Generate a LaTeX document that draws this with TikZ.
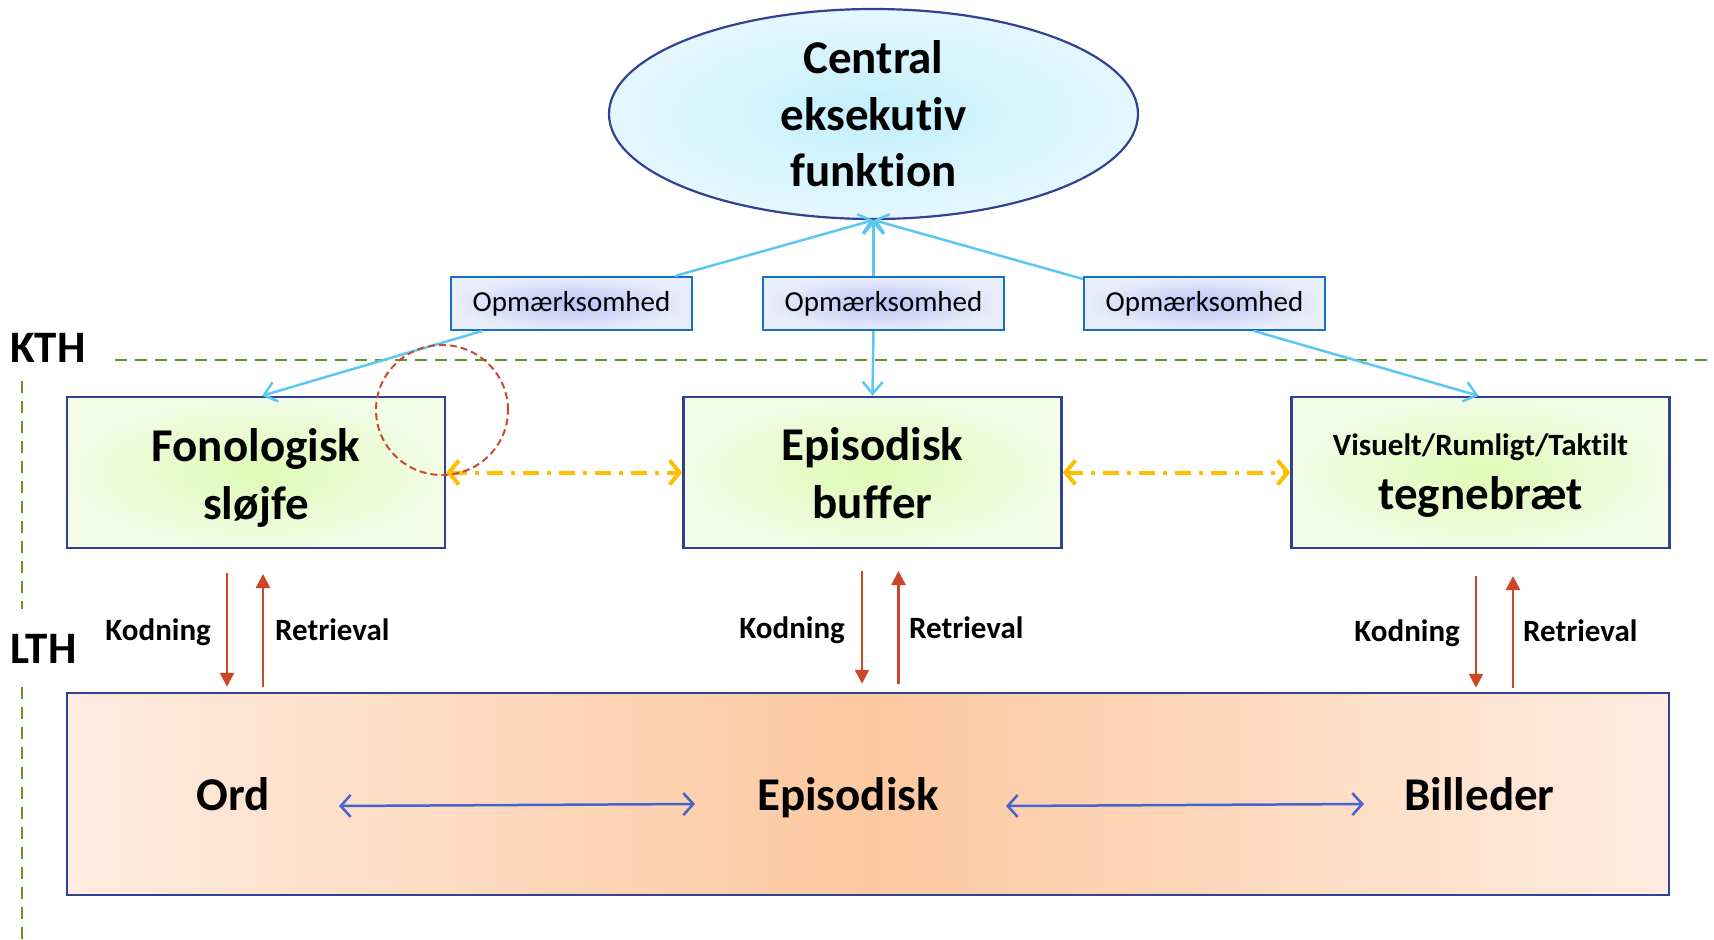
\documentclass[tikz,border=0pt]{standalone}
\usepackage{fontspec}
\setmainfont{Carlito}[Ligatures={NoCommon,NoContextual}]
\usetikzlibrary{arrows.meta,shapes.geometric,calc}
\definecolor{cyanline}{RGB}{90,200,240}
\definecolor{darkblue}{RGB}{50,65,145}
\definecolor{boxblue}{RGB}{20,112,200}
\definecolor{ellin}{RGB}{195,240,252}
\definecolor{ellout}{RGB}{228,247,255}
\definecolor{opin}{RGB}{185,195,245}
\definecolor{opout}{RGB}{234,238,250}
\definecolor{grin}{RGB}{222,250,182}
\definecolor{grout}{RGB}{242,252,230}
\definecolor{peachmid}{RGB}{252,200,160}
\definecolor{peachedge}{RGB}{255,236,224}
\definecolor{redarr}{RGB}{205,70,40}
\definecolor{orangearr}{RGB}{255,190,0}
\definecolor{greendash}{RGB}{100,150,30}
\definecolor{bluearr}{RGB}{70,100,205}
\definecolor{circred}{RGB}{200,75,50}
\newcommand{\topstrut}[1]{\rule{0pt}{#1}}
\newcommand{\botstrut}[1]{\rule[-#1]{0pt}{#1}}
\tikzset{
  bigfont/.style={font=\fontsize{47}{58}\selectfont\bfseries},
  greenbox/.style={draw=darkblue, line width=2.5pt, shading=radial, inner color=grin, outer color=grout,
    minimum width=378pt, minimum height=151pt, align=center, inner sep=0pt, bigfont},
  opbox/.style={draw=boxblue, line width=2pt, shading=radial, inner color=opin, outer color=opout,
    minimum width=241pt, minimum height=53pt, inner sep=0pt, font=\fontsize{29}{34}\selectfont},
  cyanarrow/.style={draw=cyanline, line width=2.5pt, -{Straight Barb[length=12pt,width=20pt]}},
  orangearrow/.style={draw=orangearr, line width=4pt, dash pattern=on 16pt off 8pt on 4pt off 8pt,
    {Straight Barb[length=10pt,width=24pt]}-{Straight Barb[length=10pt,width=24pt]}},
  redarrow/.style={draw=redarr, line width=2.5pt, -{Triangle[length=14pt,width=14pt]}},
  bluearrow/.style={draw=bluearr, line width=2.5pt,
    {Straight Barb[length=10pt,width=22pt]}-{Straight Barb[length=10pt,width=22pt]}},
  greenline/.style={draw=greendash, line width=2.5pt, dash pattern=on 12pt off 8pt},
  lbl/.style={font=\fontsize{31}{36}\selectfont\bfseries, inner sep=0pt},
  sidelbl/.style={font=\fontsize{45}{50}\selectfont\bfseries, inner sep=0pt},
}
\begin{document}
\begin{tikzpicture}[x=1pt,y=-1pt]
\useasboundingbox[fill=white] (0,0) rectangle (1714,940);

% dashed separators
\draw[greenline] (115,360) -- (1714,360);
\draw[greenline] (22,381) -- (22,609);
\draw[greenline] (22,687) -- (22,940);
\node[sidelbl, anchor=west] (kth) at (10,348) {KTH};
\node[sidelbl, anchor=west] (lth) at (10,649) {LTH};

% central executive
\node[ellipse, draw=darkblue, line width=2.2pt, shading=radial, inner color=ellin, outer color=ellout,
  minimum width=529pt, minimum height=210pt, inner sep=0pt, align=center,
  font=\fontsize{47}{56.5}\selectfont\bfseries] (ce) at (873.5,114) {Central\\eksekutiv\\funktion};

% attention boxes
\node[opbox] (op1) at (571.5,303.5) {Opmærksomhed};
\node[opbox] (op2) at (883.5,303.5) {Opmærksomhed};
\node[opbox] (op3) at (1204.5,303.5) {Opmærksomhed};

% green boxes
\node[greenbox] (fo) at (256,472.5) {\topstrut{47pt}Fonologisk\\sløjfe\botstrut{12pt}};
\node[greenbox] (ep) at (872.5,472.5) {\topstrut{46pt}Episodisk\\buffer\botstrut{12pt}};
\node[greenbox, font=\fontsize{47}{54}\selectfont\bfseries] (tb) at (1480.5,472.5)
  {\topstrut{31pt}{\fontsize{31}{36}\selectfont Visuelt/Rumligt/Taktilt}\\tegnebræt\botstrut{12pt}};

% long-term box
\node[draw=darkblue, line width=2.5pt, left color=peachedge, right color=peachedge, middle color=peachmid,
  minimum width=1602pt, minimum height=202pt, inner sep=0pt] (lt) at (868,794) {};
\node[bigfont, anchor=base] (ord) at (233.5,810) {Ord};
\node[bigfont, anchor=base] (epi) at (848,810) {Episodisk};
\node[bigfont, anchor=base] (bil) at (1479.5,810) {Billeder};

% cyan connectors
\draw[cyanarrow] ([xshift=-18pt]op1.north east) -- (ce.south);
\draw[cyanarrow] (op2.north -| ce.south) -- (ce.south);
\draw[cyanarrow] ([yshift=-3pt]op3.north west) -- (ce.south);
\draw[cyanarrow] ([xshift=32pt]op1.south west) -- ([xshift=6pt]fo.north);
\draw[cyanarrow] (op2.south -| ce.south) -- (ep.north);
\draw[cyanarrow] ([xshift=171pt]op3.south west) -- ([xshift=-2pt]tb.north);

% orange connectors
\draw[orangearrow] (fo.east) -- (ep.west);
\draw[orangearrow] (ep.east) -- (tb.west);

% red dashed circle
\node[ellipse, draw=circred, line width=2pt, dash pattern=on 7pt off 4pt, minimum width=132pt,
  minimum height=130pt, inner sep=0pt] (circ) at (442,410) {};

% red coding/retrieval arrows
\coordinate (k1) at (227,573);
\coordinate (r1) at (263,574);
\coordinate (k2) at (862,571);
\coordinate (r2) at (898.5,571);
\coordinate (k3) at (1476,576);
\coordinate (r3) at (1513,576);
\draw[redarrow, shorten >=5pt] (k1) -- (k1 |- lt.north);
\draw[redarrow, shorten <=5pt] (r1 |- lt.north) -- (r1);
\draw[redarrow, shorten >=8pt] (k2) -- (k2 |- lt.north);
\draw[redarrow, shorten <=8pt] (r2 |- lt.north) -- (r2);
\draw[redarrow, shorten >=4pt] (k3) -- (k3 |- lt.north);
\draw[redarrow, shorten <=4pt] (r3 |- lt.north) -- (r3);

\node[lbl, anchor=base east] (kl1) at (211,640) {Kodning};
\node[lbl, anchor=base west] (rl1) at (275,640) {Retrieval};
\node[lbl, anchor=base east] (kl2) at (845,638) {Kodning};
\node[lbl, anchor=base west] (rl2) at (909,638) {Retrieval};
\node[lbl, anchor=base east] (kl3) at (1460,641) {Kodning};
\node[lbl, anchor=base west] (rl3) at (1523,641) {Retrieval};

% blue arrows in long-term box
\coordinate (b1) at (339,806);
\coordinate (b2) at (695,804);
\coordinate (b3) at (1006,806);
\coordinate (b4) at (1364,804);
\draw[bluearrow] (b1) -- (b2);
\draw[bluearrow] (b3) -- (b4);
\end{tikzpicture}
\end{document}
